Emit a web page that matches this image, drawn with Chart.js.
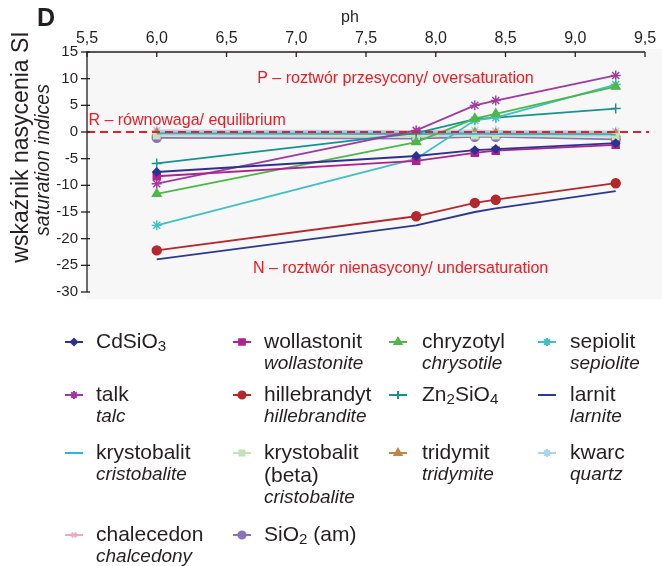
<!DOCTYPE html>
<html>
<head>
<meta charset="utf-8">
<script src="https://cdn.jsdelivr.net/npm/chart.js@4.4.1/dist/chart.umd.min.js"></script>
<style>
  body { margin: 0; background: #fff; }
  #wrap { width: 662px; height: 566px; }
</style>
</head>
<body>
<div id="wrap"><canvas id="siChart" width="662" height="566"></canvas></div>
<script>
// pH of the sampled waters
const phValues = [6.0, 7.86, 8.28, 8.43, 9.29];
const xTicks = [5.5, 6.0, 6.5, 7.0, 7.5, 8.0, 8.5, 9.0, 9.5];
const yTicks = [15, 10, 5, 0, -5, -10, -15, -20, -25, -30];

// saturation indices per mineral
const cdsio3 = [-7.5, -4.5, -3.4, -3.2, -2.1];
const wollastonit = [-8.3, -5.4, -3.9, -3.5, -2.4];
const chryzotyl = [-11.6, -1.9, 2.5, 3.4, 8.5];
const sepiolit = [-17.5, -5.0, 2.2, 2.7, 8.9];
const talk = [-9.7, 0.3, 5.0, 5.9, 10.6];
const hillebrandyt = [-22.2, -15.8, -13.3, -12.7, -9.6];
const zn2sio4 = [-5.9, -0.2, 2.4, 2.7, 4.4];
const larnit = [-23.9, -17.5, -15.0, -14.3, -11.1];
const krystobalit = [-0.3, -0.4, -0.3, -0.4, -0.5];
const krystobalitBeta = [-0.7, -0.8, -0.7, -0.7, -0.9];
const tridymit = [-0.2, -0.3, -0.2, -0.3, -0.4];
const kwarc = [0.3, 0.2, 0.3, 0.2, 0.1];
const chalcedon = [0.1, 0.0, 0.1, 0.0, -0.1];
const sio2am = [-1.1, -1.25, -0.9, -0.9, -1.4];

// legend texts ("_" marks a subscript digit, "|" a line break)
const plNames = ["CdSiO_3", "wollastonit", "chryzotyl", "sepiolit",
  "talk", "hillebrandyt", "Zn_2SiO_4", "larnit",
  "krystobalit", "krystobalit|(beta)", "tridymit", "kwarc",
  "chalecedon", "SiO_2 (am)"];
const enNames = ["", "wollastonite", "chrysotile", "sepiolite",
  "talc", "hillebrandite", "", "larnite",
  "cristobalite", "cristobalite", "tridymite", "quartz",
  "chalcedony", ""];

const series = [
  { data: cdsio3, color: "#2e3192", style: "rectRot", r: 4 },
  { data: wollastonit, color: "#b0228c", style: "rect", r: 5 },
  { data: chryzotyl, color: "#4cb848", style: "triangle", r: 5 },
  { data: sepiolit, color: "#3fc0c6", style: "star", r: 5 },
  { data: talk, color: "#9e3b9f", style: "star", r: 5 },
  { data: hillebrandyt, color: "#b3272d", style: "circle", r: 4.5 },
  { data: zn2sio4, color: "#16938f", style: "cross", r: 5 },
  { data: larnit, color: "#2b3a91", style: "line", r: 0 },
  { data: krystobalit, color: "#27b5e6", style: "line", r: 0 },
  { data: krystobalitBeta, color: "#c4e2b8", style: "rect", r: 4.5 },
  { data: tridymit, color: "#c08446", style: "triangle", r: 5 },
  { data: kwarc, color: "#a7d5f1", style: "star", r: 5 },
  { data: chalcedon, color: "#f2a5c3", style: "crossRot", r: 4 },
  { data: sio2am, color: "#8b72b8", style: "circle", r: 4.5 }
];

const FONT = '"Liberation Sans", Arial, sans-serif';
const TEXT = "#231f20";
const RED = "#ed1c24";

const datasets = series.map((s, i) => ({
  label: plNames[i],
  data: phValues.map((x, j) => ({ x, y: s.data[j] })),
  borderColor: s.color,
  backgroundColor: s.color,
  borderWidth: 1.8,
  pointStyle: s.style === "line" ? false : s.style,
  pointRadius: s.r,
  pointBorderWidth: 1.4,
  tension: 0
}));

function drawRich(ctx, str, x, y, size) {
  // plain text with "_d" subscripts
  const parts = str.split(/(_\d)/).filter(p => p.length);
  let cx = x;
  parts.forEach(p => {
    if (p[0] === "_") {
      ctx.font = (size * 0.72) + "px " + FONT;
      ctx.fillText(p[1], cx, y + size * 0.22);
      cx += ctx.measureText(p[1]).width;
    } else {
      ctx.font = size + "px " + FONT;
      ctx.fillText(p, cx, y);
      cx += ctx.measureText(p).width;
    }
  });
}

const decorations = {
  id: "decorations",
  beforeDatasetsDraw(chart) {
    const { ctx, chartArea: a } = chart;
    ctx.save();
    ctx.fillStyle = "#f7f7f7";
    ctx.fillRect(a.left, a.top - 3, 662 - a.left, a.bottom + 10 - a.top);
    ctx.restore();
  },
  afterDatasetsDraw(chart) {
    const { ctx, chartArea: a, scales } = chart;
    const xs = scales.x, ys = scales.y;
    ctx.save();

    // zero line
    const y0 = ys.getPixelForValue(0);
    ctx.strokeStyle = RED;
    ctx.lineWidth = 2;
    ctx.setLineDash([8, 5]);
    ctx.beginPath();
    ctx.moveTo(a.left, y0);
    ctx.lineTo(a.right + 4, y0);
    ctx.stroke();
    ctx.setLineDash([]);

    // axes
    ctx.strokeStyle = TEXT;
    ctx.lineWidth = 1.3;
    ctx.beginPath();
    ctx.moveTo(a.left, a.bottom);
    ctx.lineTo(a.left, a.top);
    ctx.lineTo(a.right, a.top);
    ctx.stroke();

    ctx.fillStyle = TEXT;
    ctx.font = "16px " + FONT;
    ctx.textAlign = "center";
    ctx.textBaseline = "alphabetic";
    xTicks.forEach(v => {
      const px = xs.getPixelForValue(v);
      ctx.beginPath();
      ctx.moveTo(px, a.top);
      ctx.lineTo(px, a.top + 5);
      ctx.stroke();
      ctx.fillText(v.toFixed(1).replace(".", ","), px, a.top - 9);
    });
    ctx.textAlign = "right";
    ctx.textBaseline = "middle";
    ctx.font = "15px " + FONT;
    yTicks.forEach(v => {
      const py = ys.getPixelForValue(v);
      ctx.beginPath();
      ctx.moveTo(a.left - 6, py);
      ctx.lineTo(a.left + 3, py);
      ctx.stroke();
      ctx.fillText(String(v), a.left - 9, py);
    });

    // titles
    ctx.textAlign = "center";
    ctx.font = "16px " + FONT;
    ctx.fillText("ph", xs.getPixelForValue(7.5) - 16, 18);
    ctx.textAlign = "left";
    ctx.font = "bold 25px " + FONT;
    ctx.fillText("D", 37, 19);

    ctx.save();
    ctx.translate(22, 147);
    ctx.rotate(-Math.PI / 2);
    ctx.textAlign = "center";
    ctx.font = "23px " + FONT;
    ctx.fillText("wskaźnik nasycenia SI", 0, 0);
    ctx.restore();
    ctx.save();
    ctx.translate(44, 160);
    ctx.rotate(-Math.PI / 2);
    ctx.textAlign = "center";
    ctx.font = "italic 19.5px " + FONT;
    ctx.fillText("saturation indices", 0, 0);
    ctx.restore();

    // region notes
    ctx.fillStyle = RED;
    ctx.font = "16px " + FONT;
    ctx.textAlign = "left";
    ctx.fillText("P – roztwór przesycony/ oversaturation", xs.getPixelForValue(6.72), ys.getPixelForValue(10));
    ctx.fillText("R – równowaga/ equilibrium", xs.getPixelForValue(5.51), ys.getPixelForValue(2.2));
    ctx.fillText("N – roztwór nienasycony/ undersaturation", xs.getPixelForValue(6.69), ys.getPixelForValue(-25.6));

    // legend
    const colMarker = [74, 242, 398, 547];
    const colText = [96, 264, 422, 570];
    const rowY = [342, 395, 453, 535];
    ctx.textBaseline = "middle";
    series.forEach((s, i) => {
      const col = i % 4, row = Math.floor(i / 4);
      const mx = colMarker[col], my = rowY[row];
      ctx.strokeStyle = s.color;
      ctx.fillStyle = s.color;
      ctx.lineWidth = 2;
      ctx.beginPath();
      ctx.moveTo(mx - 9, my);
      ctx.lineTo(mx + 9, my);
      ctx.stroke();
      if (s.style !== "line") {
        Chart.helpers.drawPoint(ctx, {
          pointStyle: s.style, radius: s.r * 0.8, rotation: 0, borderWidth: 1.4
        }, mx, my);
      }
      ctx.fillStyle = TEXT;
      const lines = plNames[i].split("|");
      lines.forEach((ln, k) => drawRich(ctx, ln, colText[col], my + k * 23, 21));
      if (enNames[i]) {
        ctx.font = "italic 19px " + FONT;
        ctx.fillText(enNames[i], colText[col], my + lines.length * 23 - 1);
      }
    });
    ctx.restore();
  }
};

new Chart(document.getElementById("siChart"), {
  type: "line",
  data: { datasets },
  options: {
    responsive: false,
    devicePixelRatio: 1,
    animation: false,
    layout: { padding: { left: 87, top: 52, right: 17, bottom: 274 } },
    scales: {
      x: { type: "linear", min: 5.5, max: 9.5, display: false },
      y: { type: "linear", min: -30, max: 15, display: false }
    },
    plugins: {
      legend: { display: false },
      tooltip: { enabled: false }
    }
  },
  plugins: [decorations]
});
</script>
</body>
</html>
